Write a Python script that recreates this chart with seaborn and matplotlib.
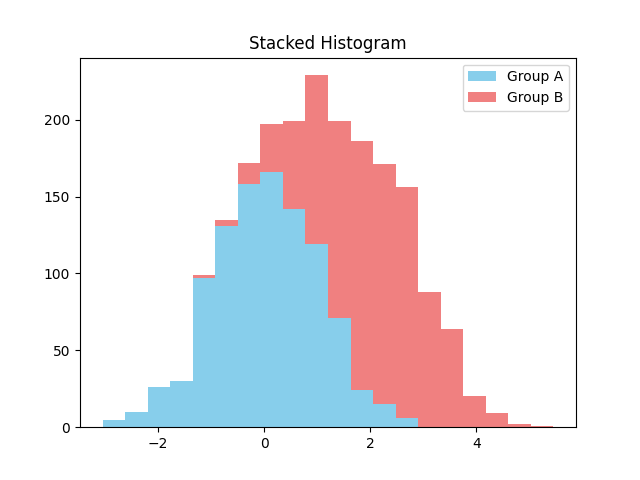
import numpy as np
import pandas as pd
import matplotlib
matplotlib.use("Agg")
import matplotlib.pyplot as plt
from matplotlib.patches import Patch
import seaborn as sns

# bin edges (20 equal bins)
bin_lo = -3.04
bin_hi = 5.45
n_bins = 20

# counts per bin
group_a = [5, 10, 26, 30, 97, 131, 158, 166, 142, 119,
           71, 24, 15, 6, 0, 0, 0, 0, 0, 0]
group_b = [0, 0, 0, 0, 2, 4, 14, 31, 57, 110,
           128, 162, 156, 150, 88, 64, 20, 9, 2, 1]

edges = np.linspace(bin_lo, bin_hi, n_bins + 1)
centers = (edges[:-1] + edges[1:]) / 2

data = pd.DataFrame({
    "value": np.concatenate([centers, centers]),
    "count": group_a + group_b,
    "group": ["Group A"] * n_bins + ["Group B"] * n_bins,
})

colors = {"Group A": "skyblue", "Group B": "lightcoral"}

fig, ax = plt.subplots(figsize=(6.4, 4.8), dpi=100)
# seaborn puts the last hue level at the bottom of the stack
sns.histplot(data=data, x="value", weights="count", hue="group",
             hue_order=["Group B", "Group A"], palette=colors,
             bins=n_bins, binrange=(bin_lo, bin_hi), multiple="stack",
             alpha=1, linewidth=0, edgecolor="none", legend=False, ax=ax)

ax.set_title("Stacked Histogram")
ax.set_xlabel("")
ax.set_ylabel("")
ax.legend(handles=[Patch(facecolor=colors["Group A"], label="Group A"),
                   Patch(facecolor=colors["Group B"], label="Group B")],
          loc="upper right")

plt.savefig("out.png")
